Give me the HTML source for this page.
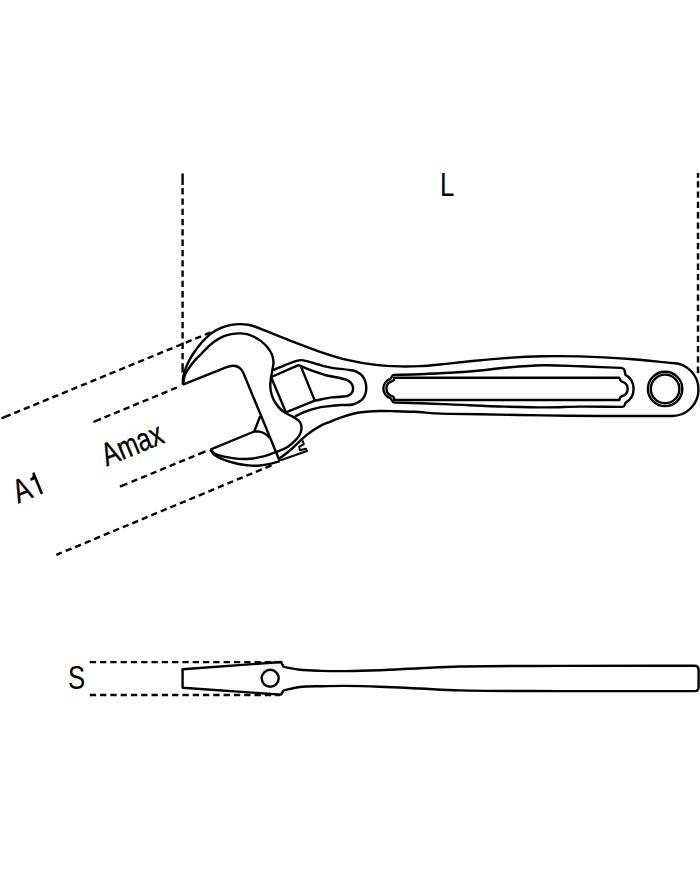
<!DOCTYPE html>
<html><head><meta charset="utf-8"><style>
html,body{margin:0;padding:0;background:#fff;}
body{width:700px;height:869px;overflow:hidden;}
svg{display:block;}
</style></head><body>
<svg width="700" height="869" viewBox="0 0 700 869">
<rect width="700" height="869" fill="#fff"/>
<g fill="none" stroke="#000" stroke-width="2.4" stroke-linejoin="round" stroke-linecap="butt">
<path d="M182.6 173.5 L182.6 184.9 M182.6 188.1 L182.6 194.4 M182.6 198.4 L182.6 204.7 M182.6 208.7 L182.6 215 M182.6 219 L182.6 225.3 M182.6 229.3 L182.6 235.6 M182.6 239.6 L182.6 245.9 M182.6 249.9 L182.6 256.2 M182.6 260.2 L182.6 266.5 M182.6 270.5 L182.6 276.8 M182.6 280.8 L182.6 287.1 M182.6 291.1 L182.6 297.4 M182.6 301.4 L182.6 307.7 M182.6 311.7 L182.6 318 M182.6 322 L182.6 328.3 M182.6 332.3 L182.6 338.6 M182.6 342.6 L182.6 348.9 M182.6 352.9 L182.6 359.2 M182.6 363.2 L182.6 372.6"/>
<path d="M698 172.9 L698 177.8 M698 181.2 L698 187.5 M698 191.5 L698 197.8 M698 201.8 L698 208.1 M698 212.1 L698 218.4 M698 222.4 L698 228.7 M698 232.7 L698 239 M698 243 L698 249.3 M698 253.3 L698 259.6 M698 263.6 L698 269.9 M698 273.9 L698 280.2 M698 284.2 L698 290.5 M698 294.5 L698 300.8 M698 304.8 L698 311.1 M698 315.1 L698 321.4 M698 325.4 L698 331.7 M698 335.7 L698 342 M698 346 L698 352.3 M698 356.3 L698 362.6 M698 366.6 L698 373"/>
<path d="M1.43 418.4 L10.59 414.63 M14.28 413.11 L20.11 410.72 M23.81 409.19 L29.64 406.8 M33.34 405.28 L39.16 402.88 M42.86 401.36 L48.69 398.96 M52.39 397.44 L58.21 395.04 M61.91 393.52 L67.74 391.12 M71.44 389.6 L77.26 387.21 M80.96 385.68 L86.79 383.29 M90.49 381.77 L96.32 379.37 M100.02 377.85 L105.84 375.45 M109.54 373.93 L115.37 371.53 M119.07 370.01 L124.89 367.61 M128.59 366.09 L134.42 363.7 M138.12 362.17 L143.94 359.78 M147.64 358.26 L153.47 355.86 M157.17 354.34 L163 351.94 M166.69 350.42 L172.52 348.02 M176.22 346.5 L182.05 344.1 M185.75 342.58 L191.57 340.19 M195.27 338.66 L201.1 336.27 M204.8 334.75 L210.5 332.4"/>
<path d="M93.4 422 L100.89 418.91 M104.49 417.42 L110.31 415.01 M114.01 413.49 L119.83 411.08 M123.53 409.55 L129.35 407.15 M133.05 405.62 L138.87 403.22 M142.57 401.69 L148.39 399.29 M152.09 397.76 L157.91 395.35 M161.61 393.83 L167.43 391.42 M171.13 389.89 L176.95 387.49"/>
<path d="M119.9 486.7 L127.29 483.64 M131.54 481.88 L137.37 479.48 M141.06 477.95 L146.88 475.54 M150.58 474.01 L156.4 471.6 M160.1 470.08 L165.92 467.67 M169.62 466.14 L175.44 463.73 M179.13 462.2 L184.96 459.8 M188.65 458.27 L194.47 455.86 M198.17 454.33 L205.5 451.3"/>
<path d="M56.3 554.9 L61.65 552.67 M65.72 550.98 L71.53 548.56 M75.23 547.02 L81.04 544.6 M84.73 543.06 L90.55 540.64 M94.24 539.1 L100.06 536.68 M103.75 535.14 L109.57 532.72 M113.26 531.18 L119.08 528.76 M122.77 527.23 L128.58 524.8 M132.28 523.27 L138.09 520.84 M141.79 519.31 L147.6 516.89 M151.3 515.35 L157.11 512.93 M160.8 511.39 L166.62 508.97 M170.31 507.43 L176.13 505.01 M179.82 503.47 L185.64 501.05 M189.33 499.51 L195.15 497.09 M198.84 495.55 L204.65 493.13 M208.35 491.59 L214.16 489.17 M217.86 487.63 L223.67 485.21 M227.36 483.68 L233.18 481.25 M236.87 479.72 L242.69 477.3 M246.38 475.76 L252.2 473.34 M255.89 471.8 L261.71 469.38 M265.4 467.84 L271.5 465.3"/>
<path d="M89.7 662.1 L96.1 662.1 M100 662.1 L106.3 662.1 M110.3 662.1 L116.6 662.1 M120.6 662.1 L126.9 662.1 M130.9 662.1 L137.2 662.1 M141.2 662.1 L147.5 662.1 M151.5 662.1 L157.8 662.1 M161.8 662.1 L168.1 662.1 M172.1 662.1 L178.4 662.1 M182.4 662.1 L188.7 662.1 M192.7 662.1 L199 662.1 M203 662.1 L209.3 662.1 M213.3 662.1 L219.6 662.1 M223.6 662.1 L229.9 662.1 M233.9 662.1 L240.2 662.1 M244.2 662.1 L250.5 662.1 M254.5 662.1 L260.8 662.1 M264.8 662.1 L271.1 662.1 M275.1 662.1 L280 662.1"/>
<path d="M89.7 695 L96.1 695 M100 695 L106.3 695 M110.3 695 L116.6 695 M120.6 695 L126.9 695 M130.9 695 L137.2 695 M141.2 695 L147.5 695 M151.5 695 L157.8 695 M161.8 695 L168.1 695 M172.1 695 L178.4 695 M182.4 695 L188.7 695 M192.7 695 L199 695 M203 695 L209.3 695 M213.3 695 L219.6 695 M223.6 695 L229.9 695 M233.9 695 L240.2 695 M244.2 695 L250.5 695 M254.5 695 L260.8 695 M264.8 695 L271.1 695 M275.1 695 L280 695"/>
<path d="M182.9 384.6 C182.97 382.23 182.75 379.89 183.1 377.5 C183.48 374.96 184.34 372.3 185.2 369.8 C186.05 367.33 187.08 364.96 188.2 362.6 C189.34 360.2 190.62 357.74 192 355.5 C193.33 353.35 194.91 351.32 196.3 349.4 C197.57 347.64 198.66 346 200 344.4 C201.36 342.77 202.71 341.37 204.4 339.7 C206.49 337.63 208.98 334.94 211.7 333 C214.52 330.98 217.82 329.25 221.1 327.9 C224.39 326.55 228.09 325.53 231.4 324.9 C234.37 324.34 237.18 324.11 240 324.1 C242.71 324.09 245.35 324.32 248 324.8 C250.69 325.28 253.36 326.11 256 327 C258.69 327.91 260.57 328.83 264 330.2 C270.18 332.67 281.11 337.16 290 340.6 C299.29 344.19 309.02 348.07 318.6 351.3 C328.06 354.49 337.52 357.63 347.1 359.9 C356.56 362.15 366.53 363.82 375.7 364.9 C384.1 365.89 392.29 366.22 400 366.4 C406.99 366.56 413.34 366.42 420 366.1 C426.67 365.78 432.66 365.18 440 364.5 C448.99 363.66 459.61 362.33 470 361.3 C481.21 360.19 493.08 358.93 505 358.1 C517.4 357.24 530.41 356.58 543 356.3 C555.41 356.02 566.74 356.04 580 356.4 C595.42 356.82 614.07 357.83 630 359 C644.62 360.08 658 361.67 672 363 A26.5 26.5 0 0 1 672 416 C648 416 622.6 416.12 600 416 C579.89 415.89 562.47 415.67 543 415.4 C522.52 415.11 497.15 414.56 480 414.3 C468.17 414.12 458.17 414.1 450 413.9 C444.36 413.76 440.94 413.69 435.7 413.4 C429.28 413.05 421.25 412.17 414.3 411.8 C407.7 411.45 401.03 411.33 395 411.2 C389.69 411.08 384.91 410.89 380 411 C375.25 411.1 370.03 411.46 366 411.8 C362.93 412.06 360.89 412.13 357.9 412.7 C354.07 413.43 349.43 414.78 345 416.2 C340.15 417.76 334.48 420 330 421.8 C326.31 423.28 323.46 424.24 320 426.1 C315.88 428.32 311.12 431.45 307.1 434.6 C303.12 437.72 299.48 441.75 296 444.9 C292.97 447.65 290.25 450.19 287.4 452.5 C284.78 454.62 282.2 456.37 279.6 458.3"/>
<path d="M182.9 384.6 C183.63 381.27 183.94 377.48 185.1 374.6 C186.09 372.14 187.66 370.22 189 368.2 C190.26 366.3 191.59 364.46 192.9 362.8 C194.09 361.29 195.28 359.9 196.5 358.6 C197.65 357.38 198.86 356.35 200 355.2 C201.13 354.05 202.09 352.94 203.3 351.7 C204.72 350.24 206.35 348.54 208 347 C209.71 345.4 211.26 343.84 213.4 342.3 C216.05 340.39 219.74 338.09 222.9 336.7 C225.74 335.45 228.53 334.65 231.4 334.1 C234.23 333.56 237.28 333.36 240 333.4 C242.46 333.44 244.88 333.71 247 334.2 C248.86 334.63 250.22 335.14 252.1 336 C254.64 337.16 258.09 338.97 260.7 340.9 C263.25 342.79 265.69 345.06 267.6 347.4 C269.37 349.58 270.92 351.92 271.9 354.4 C272.86 356.83 273.42 359.53 273.5 362.1 C273.58 364.66 272.82 367.16 272.4 369.8 C271.96 372.61 271.25 375.65 270.9 378.5 C270.56 381.21 270.18 383.82 270.3 386.5 C270.43 389.25 270.86 392.1 271.7 394.8 C272.57 397.6 273.77 400.37 275.5 403 C277.43 405.93 280 409.02 283 411.4 C286.22 413.95 291.32 415.49 294.4 417.6 C296.76 419.21 299.03 420.51 300.2 422.5 C301.3 424.36 301.64 426.85 301.5 429 C301.36 431.19 300.35 433.59 299.3 435.5 C298.31 437.29 297.09 438.56 295.5 440.2 C293.42 442.35 290.57 445.11 287.6 447 C284.48 448.98 280.85 450.21 277.1 451.7 C272.92 453.36 268.16 455.23 263.6 456.4 C259.12 457.55 254.35 458.3 250 458.7 C246.05 459.07 242.51 459.17 238.6 458.9 C234.42 458.61 229.72 457.78 225.7 456.9 C222.07 456.11 218.21 455.45 215.5 454 C213.33 452.84 212.03 451.07 210.3 449.6"/>
<path d="M182.9 384.6 L226 367.4 Q238.9 362.2 243.6 373.5 L279.8 461.3"/>
<path d="M210.3 449.6 L254.2 431.5 L260.2 416.2"/>
<path d="M254.2 431.5 C255.63 431.5 257.1 431.33 258.5 431.5 C259.87 431.67 261.22 431.99 262.5 432.5 C263.82 433.02 265.14 433.71 266.3 434.6 C267.51 435.53 268.5 436.87 269.6 438"/>
<path d="M210.3 449.6 C211.43 451.17 212.29 452.98 213.7 454.3 C215.17 455.67 217.08 456.63 219 457.6 C221.06 458.65 223.08 459.4 225.7 460.3 C229.28 461.53 234.27 463.11 238.6 464 C242.84 464.87 247.55 465.38 251.4 465.6 C254.54 465.78 257.02 465.76 260 465.5 C263.27 465.21 266.87 464.51 270.2 463.8 C273.46 463.1 276.6 462.13 279.8 461.3"/>
<path d="M280.6 460.3 L307 451 L305.8 448.7 L299.9 450.2 L299.1 446.8 L303.8 444.2 L302.4 440.4" stroke-width="2.0"/>
<path d="M272.7 370.2 C276.8 368.53 280.96 366.79 285 365.2 C288.89 363.67 293.42 361.59 296.5 360.8 C298.47 360.29 299.8 360.05 301.5 360.1 C303.29 360.15 304.84 360.68 307 361.2 C310.17 361.97 315.31 363.54 318.6 364.5 C321.05 365.21 322.8 365.84 325 366.4 C327.29 366.98 329.21 367.42 332.1 367.9 C336.57 368.64 344.85 369.22 349.3 370 C352.16 370.5 354.11 370.58 356.3 371.6 C358.63 372.68 361.18 374.2 362.8 376.5 C364.74 379.25 366.26 383.93 366.3 387.6 C366.34 391.19 365.36 395.51 363.2 398.3 C360.94 401.22 356.47 403.39 352.7 404.5 C348.96 405.61 344.96 404.69 340.7 405 C335.81 405.35 329.2 406.03 325 406.6 C322.16 406.98 320.55 407.18 317.9 407.8 C314.42 408.62 309.85 409.98 306 411.4 C302.22 412.79 298.67 414.6 295 416.2"/>
<path d="M300.8 366.2 C305.53 368.03 310.66 370.15 315 371.7 C318.61 372.99 321.93 374.17 325 375 C327.55 375.69 329.38 375.91 332.1 376.5 C335.77 377.3 341.62 378.12 345 379.4 C347.39 380.31 349.45 381.06 350.8 382.6 C352.11 384.09 353.08 386.53 353.1 388.4 C353.12 390.15 352.22 392.24 351.2 393.5 C350.3 394.61 349.06 395.27 347.6 395.8 C345.73 396.48 343.13 396.44 340.7 396.7 C337.99 396.99 335.45 396.96 332.1 397.4 C327.32 398.04 320.57 399.53 314.8 400.6 L285.9 412.3"/>
<path d="M271.4 377 L297.3 365.6 Q300.1 364.6 301.2 367.2 L314.8 400.6"/>
<path d="M271.6 378.2 L285.9 412.3"/>
<path d="M393.6 374.9 C402.4 374.67 410.92 374.53 420 374.2 C429.68 373.85 439.77 373.44 450 372.8 C460.72 372.13 473.03 371.15 482.9 370.2 C491 369.42 496.63 368.44 505 367.7 C515.95 366.74 530.41 365.53 543 365.3 C555.41 365.08 567.34 365.88 580 366.3 C593.34 366.74 607.4 367.37 621.1 367.9 Q624.1 368.3 624.6 370.5 L625.4 374.7 A16.3 16.3 0 0 1 625.4 403 L624.6 405.4 Q624 406.9 622 406.9 C608 406.8 593.16 406.49 580 406.6 C568.34 406.7 558.66 407.37 547 407.4 C533.84 407.43 519.94 407.04 505 406.6 C487.9 406.1 465.58 405 450 404.4 C438.5 403.96 428.56 403.58 420 403.3 C413.59 403.09 407.92 402.92 403.2 402.8 C399.77 402.71 397.27 402.67 394.3 402.6 Q392.8 402.3 392.5 401.2 L390.4 398.2 A10.15 10.15 0 0 1 390.4 378.9 L392.1 376.4 Q392.6 375 393.6 374.9 Z"/>
<path d="M394.3 377.7 L619 377.7 L620.7 380.7 Q621.5 381.7 622.9 382 A7.4 7.4 0 0 1 622 396.1 Q620.3 396.8 619.8 398.3 L619.4 400 L394.3 400 L393.9 397.5 Q393.3 396.5 392.1 396.1 A7.8 7.8 0 0 1 392.1 381.1 Q393.3 380.7 393.9 380 Z"/>
<path d="M182.6 669.2 L281.2 662.0 Q282.6 665.6 283.8 666.9 C289.2 667.8 294.16 669.12 300 669.8 C306.75 670.59 314.53 670.68 322 670.9 C329.75 671.13 337.07 671.18 345.7 671.1 C356.08 671.01 368.13 670.65 380 670.2 C392.82 669.71 406.67 668.82 420 668.2 C433.33 667.58 443.66 666.9 460 666.5 C485.82 665.87 524.2 666.02 560 665.9 C601.52 665.76 649.67 665.83 694.5 665.8 Q698.6 665.8 698.6 670 L698.6 686.9 Q698.6 691.1 694.5 691.1 C649.67 691.1 601.52 691.25 560 691.1 C524.2 690.97 485.82 691.1 460 690.4 C443.66 689.95 433.33 689.12 420 688.5 C406.67 687.88 392.82 687.14 380 686.7 C368.13 686.29 356.08 685.96 345.7 685.9 C337.07 685.85 329.75 686.01 322 686.2 C314.53 686.38 306.74 686.18 300 687 C294.15 687.71 289.2 689.27 283.8 690.4 Q282.6 691.5 281.2 694.6 L182.6 687.7 Z"/>
<circle cx="665.1" cy="388.9" r="17.2"/>
<circle cx="665.1" cy="388.9" r="14.3"/>
<circle cx="270.2" cy="678.3" r="8.5"/>
</g>
<g fill="#000" style='font-family:"Liberation Sans",sans-serif;'>
<text transform="translate(440.0 196.1) scale(0.78 1)" font-size="33">L</text>
<text stroke="#000" stroke-width="0.35" transform="translate(106.8 466.6) rotate(-22.5) scale(0.77 1)" font-size="32.4">Amax</text>
<g stroke="#000" stroke-width="0.35" transform="translate(18.2 503.6) rotate(-22.5) scale(0.78 1)"><text font-size="33">A</text><path stroke-width="22" transform="translate(22.011 0) scale(0.016113 -0.016113)" d="M585 0 L766 0 L766 1409 L630 1409 Q600 1270 490 1200 Q400 1145 270 1135 L270 1010 L585 1010 Z"/></g>
<text transform="translate(68.1 688.6) scale(0.78 1)" font-size="33">S</text>
</g>
</svg>
</body></html>
